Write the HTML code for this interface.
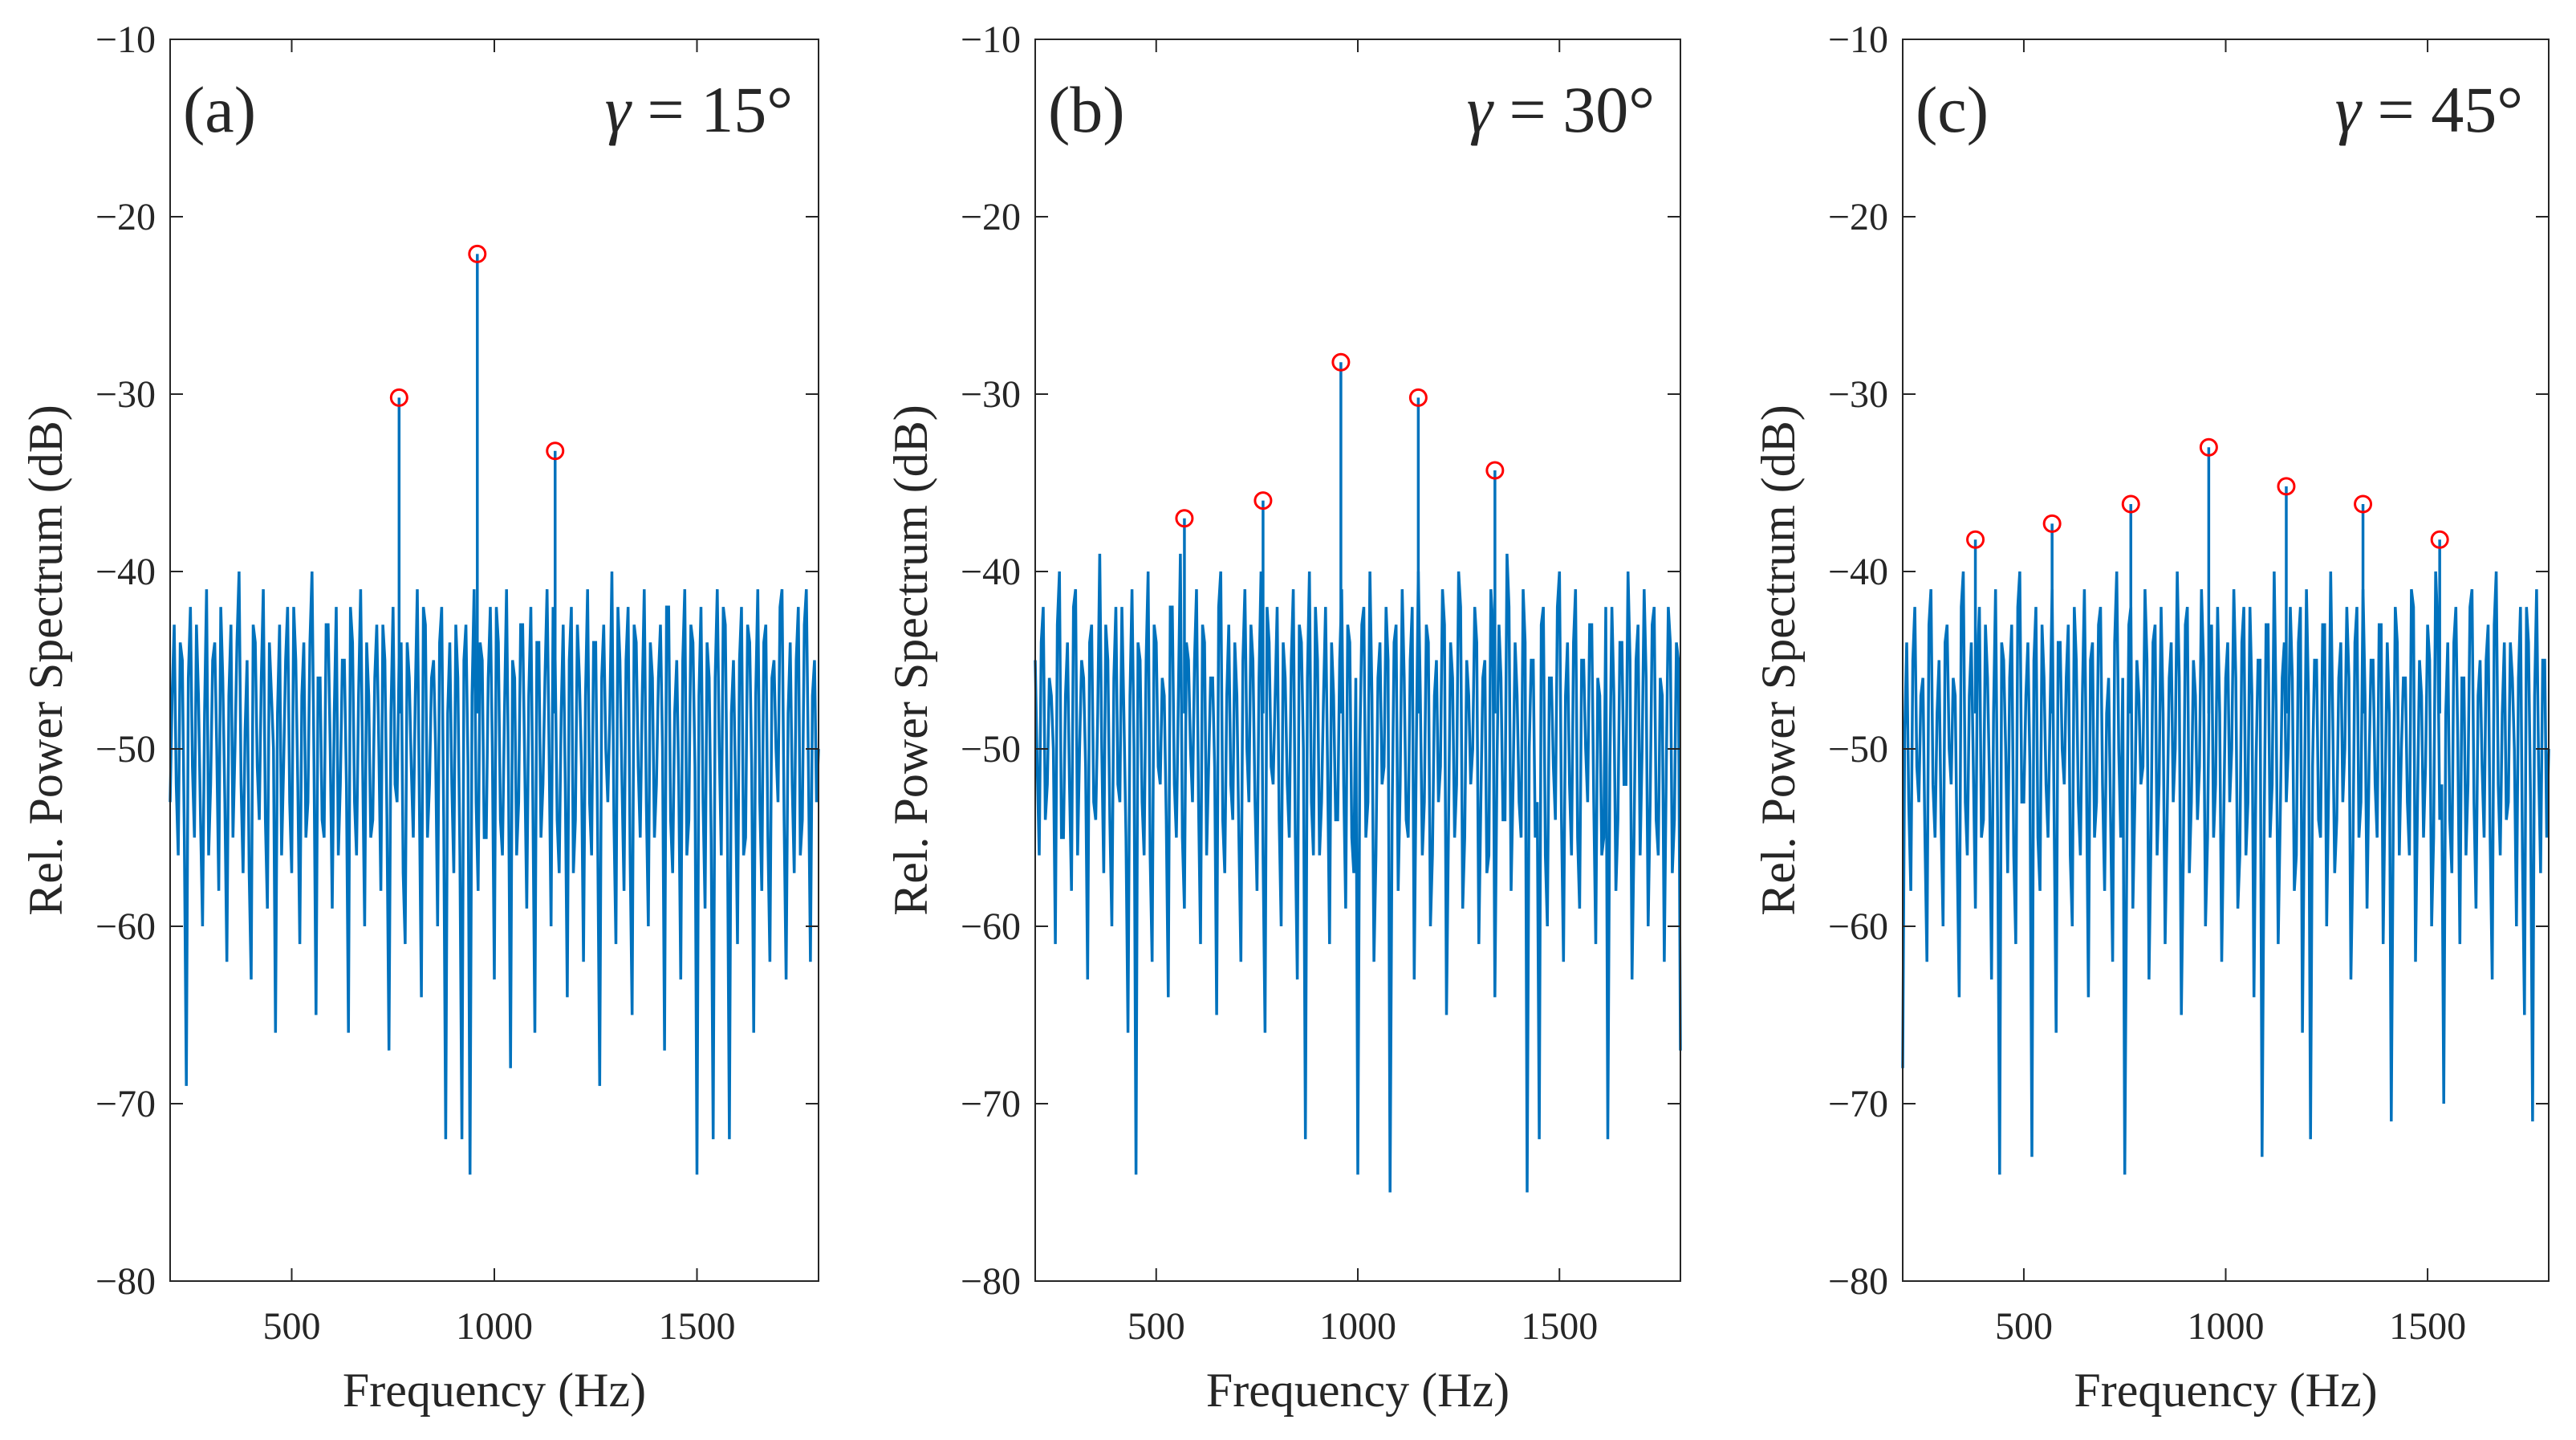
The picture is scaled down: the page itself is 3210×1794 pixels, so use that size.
<!DOCTYPE html>
<html><head><meta charset="utf-8"><style>
html,body{margin:0;padding:0;background:#fff;}
svg{display:block;}
text{font-family:"Liberation Serif",serif;fill:#262626;}
</style></head><body>
<svg id="chart" width="3210" height="1794" viewBox="0 0 3210 1794" xmlns="http://www.w3.org/2000/svg"></svg>
<script>
const yTicks=[-10,-20,-30,-40,-50,-60,-70,-80];
const xTicks=[500,1000,1500];
const fStart=200, fStep=10;
const panelLabels=["(a)","(b)","(c)"];
const gammaLabels=["15°","30°","45°"];
const noiseA=[-53,-43,-56,-45,-69,-42,-55,-47,-60,-41,-52,-44,-58,-46,-62,-43,-50,-40,-57,-45,
-63,-44,-54,-41,-59,-47,-66,-43,-51,-42,-57,-45,-61,-44,-53,-40,-65,-46,-55,-43,
-59,-42,-52,-45,-66,-44,-56,-41,-60,-47,-54,-43,-58,-45,-67,-42,-53,-44,-61,-46,
-55,-41,-64,-43,-52,-45,-60,-42,-72,-44,-57,-46,-72,-43,-74,-41,-58,-45,-55,-42,
-63,-44,-56,-41,-68,-46,-53,-43,-59,-42,-66,-44,-52,-41,-60,-45,-57,-43,-64,-42,
-54,-46,-62,-41,-56,-44,-69,-43,-53,-40,-61,-45,-58,-42,-65,-44,-55,-41,-60,-46,
-52,-43,-67,-42,-57,-45,-63,-41,-54,-44,-74,-42,-59,-46,-72,-41,-56,-43,-72,-45,
-61,-42,-55,-44,-66,-41,-58,-43,-62,-45,-53,-41,-63,-44,-57,-42,-54,-41,-62,-45,-50];
const noiseA2=[-47,-52,-44,-55,-46,-51,-43,-54,-48,-56,-45,-50,-42,-53,-47,-55,-44,-52,-49,-57,
-43,-51,-46,-54,-44,-50,-48,-56,-45,-53,-42,-52,-47,-55,-44,-51,-46,-54,-43,-50,
-48,-56,-45,-52,-42,-53,-47,-51,-44,-55,-46,-50,-43,-54,-48,-52,-45,-57,-44,-51,
-47,-53,-42,-55,-46,-50,-44,-54,-48,-52,-43,-56,-45,-51,-47,-53,-44,-55,-46,-50,
-42,-54,-48,-52,-45,-56,-43,-51,-47,-53,-44,-55,-46,-50,-42,-54,-48,-52,-45,-57,
-43,-51,-47,-53,-44,-55,-46,-50,-48,-54,-42,-52,-45,-56,-43,-51,-47,-53,-44,-55,
-46,-50,-42,-54,-48,-52,-45,-56,-43,-51,-47,-53,-44,-55,-46,-50,-42,-54,-48,-52,
-45,-56,-43,-51,-47,-53,-44,-55,-46,-50,-42,-54,-48,-52,-45,-56,-43,-51,-47,-53];
const noiseB=[-45,-56,-42,-52,-47,-61,-40,-55,-44,-58,-41,-50,-46,-63,-43,-54,-39,-57,-45,-60,
-42,-53,-48,-66,-41,-74,-45,-56,-40,-62,-44,-52,-47,-64,-42,-55,-39,-59,-45,-53,
-41,-61,-44,-51,-46,-65,-40,-57,-43,-54,-47,-62,-41,-53,-45,-58,-40,-66,-44,-52,
-42,-60,-46,-55,-41,-63,-44,-72,-40,-56,-45,-53,-42,-61,-47,-54,-41,-59,-44,-57,
-74,-43,-55,-40,-62,-46,-52,-42,-75,-44,-58,-41,-54,-45,-63,-40,-56,-43,-60,-47,
-53,-41,-65,-44,-55,-40,-59,-45,-52,-42,-61,-46,-57,-41,-64,-43,-54,-39,-58,-44,
-53,-41,-75,-45,-55,-72,-42,-60,-46,-54,-40,-62,-44,-56,-41,-59,-45,-53,-43,-61,
-47,-55,-72,-42,-58,-44,-52,-40,-63,-45,-56,-41,-60,-43,-54,-46,-62,-42,-57,-44,-67];
const noiseB2=[-51,-44,-54,-46,-50,-43,-55,-47,-52,-42,-56,-45,-51,-44,-53,-48,-50,-43,-54,-46,
-52,-42,-55,-47,-50,-44,-53,-45,-56,-43,-51,-46,-54,-42,-52,-47,-55,-44,-50,-45,
-53,-43,-56,-46,-51,-42,-54,-47,-52,-44,-55,-45,-50,-43,-53,-46,-56,-42,-51,-47,
-54,-44,-52,-45,-55,-43,-50,-46,-53,-42,-56,-47,-51,-44,-54,-45,-52,-43,-55,-46,
-50,-42,-53,-47,-56,-44,-51,-45,-54,-43,-52,-46,-55,-42,-50,-47,-53,-44,-56,-45,
-51,-43,-54,-46,-52,-42,-55,-47,-50,-44,-53,-45,-56,-43,-51,-46,-54,-42,-52,-47,
-55,-44,-50,-45,-53,-43,-56,-46,-51,-42,-54,-47,-52,-44,-55,-45,-50,-43,-53,-46,
-56,-42,-51,-47,-54,-44,-52,-45,-55,-43,-50,-46,-53,-42,-56,-47,-51,-44,-54,-45];
const noiseC=[-68,-44,-58,-42,-53,-46,-62,-41,-55,-45,-60,-43,-52,-47,-64,-40,-56,-44,-59,-42,
-54,-46,-63,-41,-74,-45,-57,-43,-61,-40,-53,-44,-73,-42,-58,-46,-55,-41,-66,-44,
-52,-43,-60,-45,-56,-41,-64,-44,-53,-42,-58,-46,-62,-40,-55,-74,-43,-59,-45,-52,
-41,-63,-44,-56,-42,-61,-46,-53,-40,-65,-43,-57,-45,-54,-41,-60,-44,-55,-42,-62,
-46,-53,-41,-59,-44,-56,-42,-64,-45,-73,-43,-55,-40,-61,-46,-53,-42,-58,-44,-66,
-41,-72,-45,-54,-43,-60,-40,-57,-46,-53,-42,-63,-44,-55,-41,-59,-45,-52,-43,-61,
-44,-71,-42,-56,-46,-53,-41,-62,-45,-55,-43,-60,-40,-54,-70,-44,-57,-42,-61,-46,
-52,-41,-59,-45,-55,-43,-63,-40,-56,-44,-53,-46,-60,-42,-65,-44,-71,-41,-57,-45,-50];
const noiseC2=[-49,-53,-45,-51,-47,-55,-43,-52,-48,-54,-44,-50,-46,-56,-42,-53,-47,-51,-45,-55,
-43,-52,-48,-54,-44,-50,-46,-56,-42,-53,-47,-51,-45,-55,-43,-52,-48,-54,-44,-50,
-46,-56,-42,-53,-47,-51,-45,-55,-43,-52,-48,-54,-44,-50,-46,-56,-42,-53,-47,-51,
-45,-55,-43,-52,-48,-54,-44,-50,-46,-56,-42,-53,-47,-51,-45,-55,-43,-52,-48,-54,
-44,-50,-46,-56,-42,-53,-47,-51,-45,-55,-43,-52,-48,-54,-44,-50,-46,-56,-42,-53,
-47,-51,-45,-55,-43,-52,-48,-54,-44,-50,-46,-56,-42,-53,-47,-51,-45,-55,-43,-52,
-48,-54,-44,-50,-46,-56,-42,-53,-47,-51,-45,-55,-43,-52,-48,-54,-44,-50,-46,-56,
-42,-53,-47,-51,-45,-55,-43,-52,-48,-54,-44,-50,-46,-56,-42,-53,-47,-51,-45,-55];
const peakFreqA=[765,958,1150];
const peakDbA=[-30.2,-22.1,-33.2];
const peakFreqB=[570,765,958,1150,1340];
const peakDbB=[-37,-36,-28.2,-30.2,-34.3];
const peakFreqC=[380,570,765,958,1150,1340,1530];
const peakDbC=[-38.2,-37.3,-36.2,-33,-35.2,-36.2,-38.2];

const NS="http://www.w3.org/2000/svg";
const svgEl=document.getElementById('chart');
function mk(tag,attrs,parent){const e=document.createElementNS(NS,tag);for(const k in attrs)e.setAttribute(k,attrs[k]);(parent||svgEl).appendChild(e);return e;}
const panels=[{l:212,r:1020,noise:noiseA,noise2:noiseA2,pf:peakFreqA,pd:peakDbA},
{l:1290,r:2094,noise:noiseB,noise2:noiseB2,pf:peakFreqB,pd:peakDbB},
{l:2371,r:3176,noise:noiseC,noise2:noiseC2,pf:peakFreqC,pd:peakDbC}];
const axTop=49,axBot=1596,xMin=200,xMax=1800,yMin=-80,yMax=-10;
panels.forEach((p,pi)=>{
  const g=mk('g',{});
  
  
  const X=f=>p.l+(f-xMin)/(xMax-xMin)*(p.r-p.l);
  const Y=v=>axTop+(yMax-v)/(yMax-yMin)*(axBot-axTop);
  const merged=[];
  p.noise.forEach((v,i)=>{
    merged.push([fStart+i*fStep,v]);
    if(i<p.noise2.length) merged.push([fStart+i*fStep+fStep/2,p.noise2[i]]);
  });
  const pts=merged.map(d=>X(d[0]).toFixed(1)+','+Y(d[1]).toFixed(1)).join(' ');
  const line=mk('polyline',{points:pts,fill:'none',stroke:'#0072BD','stroke-width':3.5},g);
  
  
  p.pf.forEach((f,i)=>{
    const st=mk('line',{x1:X(f),x2:X(f),y1:Y(p.pd[i]),y2:Y(-48),stroke:'#0072BD','stroke-width':3.5},g);
    
    
    const c=mk('circle',{cx:X(f),cy:Y(p.pd[i]),r:10,fill:'none',stroke:'#FF0000','stroke-width':3},g);
    
    
  });
  const box=mk('rect',{x:p.l,y:axTop,width:p.r-p.l,height:axBot-axTop,fill:'none',stroke:'#262626','stroke-width':2},g);
  
  
  yTicks.forEach(v=>{
    const y=Y(v);
    mk('line',{x1:p.l,x2:p.l+16,y1:y,y2:y,stroke:'#262626','stroke-width':2},g);
    mk('line',{x1:p.r,x2:p.r-16,y1:y,y2:y,stroke:'#262626','stroke-width':2},g);
    const t=mk('text',{x:p.l-18,y:y+16,'text-anchor':'end','font-size':48},g);
    t.textContent=String(v).replace('-','\u2212');
    
    
  });
  xTicks.forEach(v=>{
    const x=X(v);
    mk('line',{x1:x,x2:x,y1:axBot,y2:axBot-16,stroke:'#262626','stroke-width':2},g);
    mk('line',{x1:x,x2:x,y1:axTop,y2:axTop+16,stroke:'#262626','stroke-width':2},g);
    const t=mk('text',{x:x,y:1668,'text-anchor':'middle','font-size':48},g);
    t.textContent=v;
    
    
  });
  const xl=mk('text',{x:(p.l+p.r)/2,y:1752,'text-anchor':'middle','font-size':60},g);
  xl.textContent='Frequency (Hz)';
  
  
  const cy=(axTop+axBot)/2;
  const lx=p.l-155;
  const yl=mk('text',{x:lx,y:cy+20,'text-anchor':'middle','font-size':60,transform:'rotate(-90 '+lx+' '+cy+')'},g);
  yl.textContent='Rel. Power Spectrum (dB)';
  
  
  const pl=mk('text',{x:p.l+16,y:164,'font-size':82},g);
  pl.textContent=panelLabels[pi];
  
  
  const gl=mk('text',{x:p.r-32,y:164,'text-anchor':'end','font-size':82},g);
  
  
  const ts=mk('tspan',{'font-style':'italic'},gl);
  ts.textContent='γ';
  const ts2=mk('tspan',{},gl);
  ts2.textContent=' = '+gammaLabels[pi];
});
</script>
</body></html>
